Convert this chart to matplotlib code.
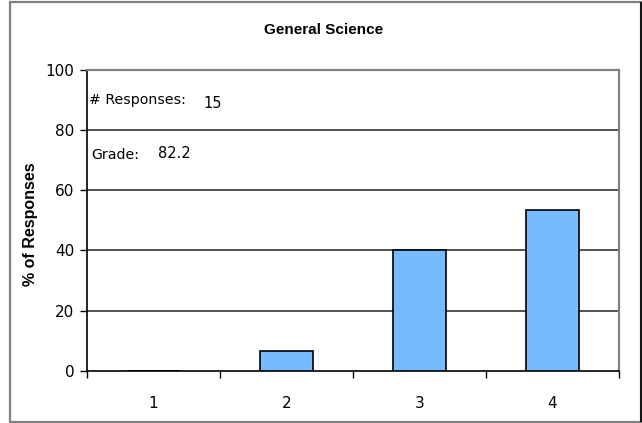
import matplotlib
matplotlib.use("Agg")
import matplotlib.pyplot as plt
from matplotlib.patches import Rectangle

# data
categories = [1, 2, 3, 4]
percent = [0.0, 6.67, 40.0, 53.33]
yticks = [0, 20, 40, 60, 80, 100]
title = "General Science"
n_responses = "15"
grade = "82.2"

W, H = 642, 423
fig = plt.figure(figsize=(W / 100, H / 100), dpi=100)

# outer frame of the chart
fig.patches.append(Rectangle((9.5 / W, 1 - 422 / H), (640.5 - 9.5) / W, (422 - 2.5) / H,
                             transform=fig.transFigure, fill=False,
                             edgecolor="#808080", linewidth=1.6))
fig.patches.append(Rectangle((640.5 / W, 1 - 422 / H), 0, (422 - 2.5) / H,
                             transform=fig.transFigure, fill=False,
                             edgecolor="black", linewidth=1.2))

ax = fig.add_axes([87 / W, 1 - 370.7 / H, (619 - 87) / W, 300.7 / H])

ax.bar(categories, percent, width=0.4, color="#77BAFF", edgecolor="black",
       linewidth=1.2, zorder=3)

ax.set_xlim(0.5, 4.5)
ax.set_ylim(0, 100)
ax.set_yticks(yticks)
ax.set_xticks(categories)
ax.set_xticks([0.5, 1.5, 2.5, 3.5, 4.5], minor=True)
ax.tick_params(axis="x", which="major", length=0, pad=18, labelsize=11)
ax.tick_params(axis="x", which="minor", length=5, width=1, color="black")
ax.tick_params(axis="y", length=5, width=1, pad=4, labelsize=11)

for y in yticks[1:-1]:
    ax.axhline(y, color="#222222", linewidth=1.1, zorder=1)

ax.spines["left"].set_color("black")
ax.spines["bottom"].set_color("black")
ax.spines["left"].set_linewidth(1.2)
ax.spines["bottom"].set_linewidth(1.2)
ax.spines["top"].set_color("#808080")
ax.spines["right"].set_color("#808080")
ax.spines["top"].set_linewidth(1.6)
ax.spines["right"].set_linewidth(1.6)

fig.text(324 / W, 1 - 30 / H, title, ha="center", va="center",
         fontsize=11, fontweight="bold", family="Liberation Sans")
fig.text(31 / W, 1 - 224 / H, "% of Responses", ha="center", va="center",
         rotation=90, fontsize=11.5, fontweight="bold", family="Liberation Sans")

# info text inside the plot area
fig.text(89 / W, 1 - 100 / H, "# Responses:", ha="left", va="center", fontsize=10.2)
fig.text(203 / W, 1 - 103 / H, n_responses, ha="left", va="center", fontsize=10.5)
fig.text(91 / W, 1 - 155 / H, "Grade:", ha="left", va="center", fontsize=10.2)
fig.text(158 / W, 1 - 153 / H, grade, ha="left", va="center", fontsize=10.5)

fig.savefig("out.png", dpi=100)
